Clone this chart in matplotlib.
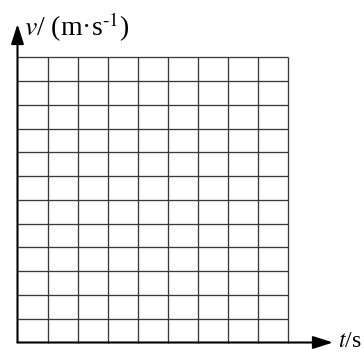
import matplotlib
matplotlib.use("Agg")
import matplotlib.pyplot as plt
import numpy as np

# ---- data ----
grid_cols = [0, 1, 2, 3, 4, 5, 6, 7, 8, 9]          # vertical grid line positions (t)
grid_rows = [0, 1, 2, 3, 4, 5, 6, 7, 8, 9, 10, 11, 12]  # horizontal grid line positions (v)
y_label = r"$v$/ (m·s$^{\text{-}1}$)"
x_label_it = r"$t$/s"

plt.rcParams['font.family'] = ['Liberation Serif', 'DejaVu Serif']
plt.rcParams['mathtext.fontset'] = 'stix'

W, H = 364, 352
fig = plt.figure(figsize=(W / 100, H / 100), dpi=100)
ax = fig.add_axes([0, 0, 1, 1])
ax.set_axis_off()

# pixel geometry
x0_px, x9_px = 17.5, 288.0
y0_px, y12_px = 342.5, 57.3
sx = (x9_px - x0_px) / 9
sy = (y0_px - y12_px) / 12
ax.set_xlim(-x0_px / sx, (W - x0_px) / sx)
ax.set_ylim(-(H - y0_px) / sy, y0_px / sy)

xmax = max(grid_cols)
ymax = max(grid_rows)
grid_color = '#3a3a3a'
ax.vlines(grid_cols[1:], 0, ymax, colors=grid_color, lw=0.95)
ax.hlines(grid_rows[1:], 0, xmax, colors=grid_color, lw=0.95)

# axes with arrows
x_tip = (333 - x0_px) / sx
y_tip = (y0_px - 24) / sy
style = '-|>,head_length=1.0,head_width=0.32'
ax.annotate('', xy=(x_tip, 0), xytext=(0, 0),
            arrowprops=dict(arrowstyle=style, color='black',
                            lw=1.5, shrinkA=0, shrinkB=0, mutation_scale=12))
ax.annotate('', xy=(0, y_tip), xytext=(0, 0),
            arrowprops=dict(arrowstyle=style, color='black',
                            lw=1.5, shrinkA=0, shrinkB=0, mutation_scale=12))

ax.text((24 - x0_px) / sx, (y0_px - 36) / sy, y_label, fontsize=20,
        ha='left', va='baseline', color='black')
ax.text((338 - x0_px) / sx, (y0_px - 347) / sy, x_label_it, fontsize=17,
        ha='left', va='baseline', color='black')

fig.savefig("out.png", dpi=100, facecolor='white')
